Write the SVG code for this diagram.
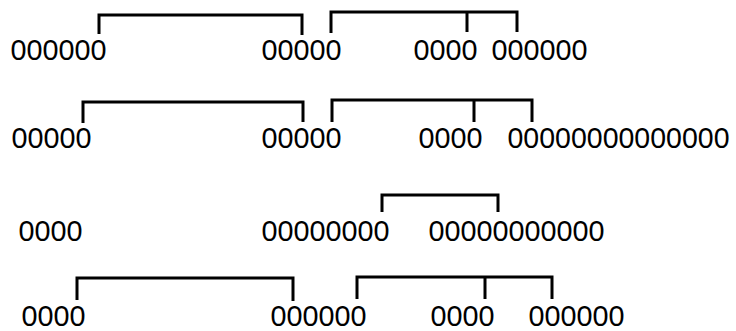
<svg xmlns="http://www.w3.org/2000/svg" width="736" height="331" viewBox="0 0 736 331">
<style>
text{font-family:"Liberation Sans",Arial,sans-serif;font-size:30px;fill:#000}
.br{fill:none;stroke:#000;stroke-width:3;stroke-linejoin:miter}
</style>
<rect width="736" height="331" fill="#fff"/>
<g id="r1n1"><text x="10.5" y="60" textLength="96" lengthAdjust="spacingAndGlyphs">000000</text></g>
<g id="r1n2"><text x="261.5" y="60" textLength="80" lengthAdjust="spacingAndGlyphs">00000</text></g>
<g id="r1n3"><text x="413.5" y="60" textLength="64" lengthAdjust="spacingAndGlyphs">0000</text></g>
<g id="r1n4"><text x="491.5" y="60" textLength="96" lengthAdjust="spacingAndGlyphs">000000</text></g>
<g id="r2n1"><text x="11.5" y="148" textLength="80" lengthAdjust="spacingAndGlyphs">00000</text></g>
<g id="r2n2"><text x="261.5" y="148" textLength="80" lengthAdjust="spacingAndGlyphs">00000</text></g>
<g id="r2n3"><text x="418.5" y="148" textLength="64" lengthAdjust="spacingAndGlyphs">0000</text></g>
<g id="r2n4"><text x="507.5" y="148" textLength="222" lengthAdjust="spacingAndGlyphs">00000000000000</text></g>
<g id="r3n1"><text x="18.5" y="241" textLength="64" lengthAdjust="spacingAndGlyphs">0000</text></g>
<g id="r3n2"><text x="261.5" y="241" textLength="128" lengthAdjust="spacingAndGlyphs">00000000</text></g>
<g id="r3n3"><text x="428.5" y="241" textLength="176" lengthAdjust="spacingAndGlyphs">00000000000</text></g>
<g id="r4n1"><text x="21.5" y="326" textLength="64" lengthAdjust="spacingAndGlyphs">0000</text></g>
<g id="r4n2"><text x="270.5" y="326" textLength="96" lengthAdjust="spacingAndGlyphs">000000</text></g>
<g id="r4n3"><text x="430.5" y="326" textLength="64" lengthAdjust="spacingAndGlyphs">0000</text></g>
<g id="r4n4"><text x="528.5" y="326" textLength="96" lengthAdjust="spacingAndGlyphs">000000</text></g>
<g id="connectors">
<path class="br" d="M99,34 V15 H302 V35"/>
<path class="br" d="M331,33 V12 H517 V32 M467,12 V32"/>
<path class="br" d="M83,123 V102 H303 V122"/>
<path class="br" d="M332,122 V100 H532 V122 M474,100 V122"/>
<path class="br" d="M382,212 V195 H498 V212"/>
<path class="br" d="M77,300 V278 H293 V301"/>
<path class="br" d="M357,299 V277 H552 V299 M485,277 V299"/>
</g>
</svg>
